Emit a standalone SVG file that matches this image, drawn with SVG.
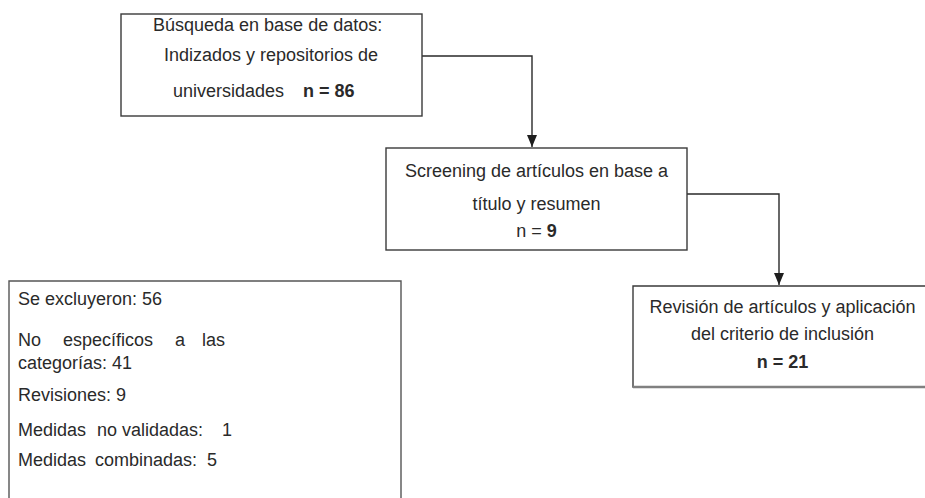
<svg xmlns="http://www.w3.org/2000/svg" width="925" height="498" viewBox="0 0 925 498">
<style>
.box{fill:#fff;stroke:#3a3a3a;stroke-width:1.4}
.t{font-family:"Liberation Sans",Arial,sans-serif;font-size:18px;fill:#2a2a2a}
.c{text-anchor:middle}
.b{font-weight:bold}
.conn{fill:none;stroke:#2a2a2a;stroke-width:1.4}
</style>
<defs>
<marker id="arr" markerUnits="userSpaceOnUse" markerWidth="13" markerHeight="11" refX="12" refY="5" orient="auto">
<path d="M0,0 L12,5 L0,10 Z" fill="#1e1e1e"/>
</marker>
</defs>
<rect width="925" height="498" fill="#fff"/>
<g id="connectors">
<path class="conn" d="M422,56 H532 V147" marker-end="url(#arr)"/>
<path class="conn" d="M687,194 H779 V285" marker-end="url(#arr)"/>
</g>
<g id="busqueda">
<rect class="box" x="121" y="14" width="301" height="102"/>
<text class="t" x="153" y="31">Búsqueda en base de datos:</text>
<text class="t c" x="271" y="61">Indizados  y repositorios  de</text>
<text class="t" y="97"><tspan x="173">universidades</tspan><tspan class="b" x="303">n = 86</tspan></text>
</g>
<g id="screening">
<rect class="box" x="386" y="148" width="301" height="102"/>
<text class="t c" x="536.5" y="177">Screening  de artículos  en base a</text>
<text class="t c" x="536.5" y="210">título y resumen</text>
<text class="t c" x="536.5" y="237">n = <tspan class="b">9</tspan></text>
</g>
<g id="revision">
<path d="M926,286 H633 V387 H926" fill="#fff" stroke="#3a3a3a" stroke-width="1.4"/>
<line x1="633" y1="387" x2="926" y2="387" stroke="#808080" stroke-width="2.5"/>
<text class="t c" x="782.5" y="313">Revisión  de artículos y aplicación</text>
<text class="t c" x="782.5" y="340">del criterio de inclusión</text>
<text class="t c b" x="782.5" y="368">n = 21</text>
</g>
<g id="excluidos">
<path d="M9,500 V281 H401 V500" fill="#fff" stroke="#555" stroke-width="1.4"/>
<text class="t" x="18" y="305">Se excluyeron:  56</text>
<text class="t" y="346"><tspan x="18">No</tspan><tspan x="63">específicos</tspan><tspan x="175">a</tspan><tspan x="202">las</tspan></text>
<text class="t" x="18" y="369">categorías: 41</text>
<text class="t" x="18" y="401">Revisiones:  9</text>
<text class="t" y="436"><tspan x="18">Medidas</tspan><tspan x="97">no</tspan><tspan x="122">validadas:</tspan><tspan x="222">1</tspan></text>
<text class="t" y="466"><tspan x="18">Medidas</tspan><tspan x="95">combinadas:</tspan><tspan x="207">5</tspan></text>
</g>
</svg>
